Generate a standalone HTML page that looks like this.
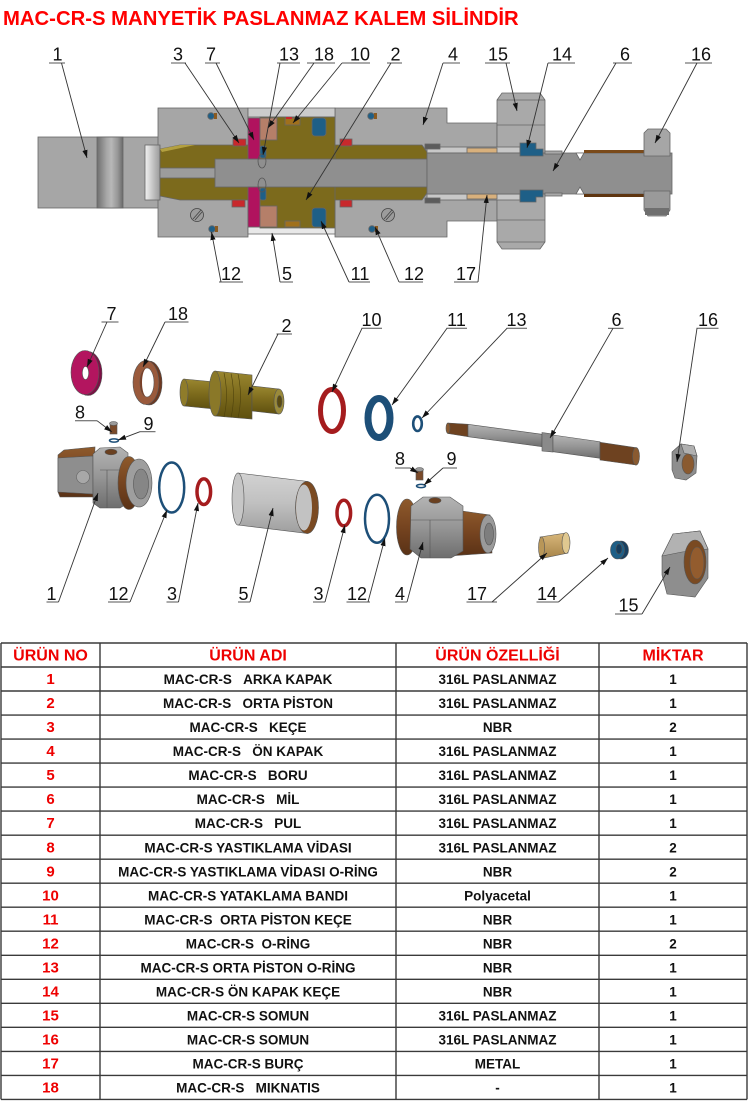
<!DOCTYPE html>
<html><head><meta charset="utf-8"><style>
html,body{margin:0;padding:0;background:#fff;}
svg{display:block;}
text{font-family:"Liberation Sans",Arial,sans-serif;}
</style></head><body>
<svg width="750" height="1107" viewBox="0 0 750 1107" xmlns="http://www.w3.org/2000/svg">
<defs>
<marker id="ah" markerWidth="8" markerHeight="6" refX="8" refY="3" orient="auto" markerUnits="userSpaceOnUse"><path d="M0,0.4 L8,3 L0,5.6 z" fill="#111"/></marker>
<linearGradient id="grip" x1="0" x2="1" y1="0" y2="0"><stop offset="0" stop-color="#6e6e6e"/><stop offset="0.35" stop-color="#a4a4a4"/><stop offset="0.55" stop-color="#b8b8b8"/><stop offset="0.8" stop-color="#969696"/><stop offset="1" stop-color="#6a6a6a"/></linearGradient>
<linearGradient id="bore" x1="0" x2="1" y1="0" y2="0"><stop offset="0" stop-color="#f2f2f2"/><stop offset="1" stop-color="#9a9a9a"/></linearGradient>
<linearGradient id="tubeg" x1="0" x2="0" y1="0" y2="1"><stop offset="0" stop-color="#d2d2d2"/><stop offset="0.5" stop-color="#c0c0c0"/><stop offset="1" stop-color="#9e9e9e"/></linearGradient>
<linearGradient id="brass" x1="0" x2="0" y1="0" y2="1"><stop offset="0" stop-color="#9a8730"/><stop offset="0.5" stop-color="#7c6a1c"/><stop offset="1" stop-color="#5e500f"/></linearGradient>
<linearGradient id="steel" x1="0" x2="0" y1="0" y2="1"><stop offset="0" stop-color="#b4b4b4"/><stop offset="0.5" stop-color="#959595"/><stop offset="1" stop-color="#6e6e6e"/></linearGradient>
<linearGradient id="brown" x1="0" x2="0" y1="0" y2="1"><stop offset="0" stop-color="#8e5a2c"/><stop offset="0.5" stop-color="#764420"/><stop offset="1" stop-color="#5a3216"/></linearGradient>
<linearGradient id="bush" x1="0" x2="0" y1="0" y2="1"><stop offset="0" stop-color="#d8b77a"/><stop offset="1" stop-color="#a8854a"/></linearGradient>
</defs>

<!-- TITLE -->
<text x="3" y="25" font-size="20.3" font-weight="bold" fill="#ff0000">MAC-CR-S MANYETİK PASLANMAZ KALEM SİLİNDİR</text>

<!-- ================= CROSS SECTION ================= -->
<g stroke="#666" stroke-width="0.8">
  <rect x="38" y="137" width="122" height="71" fill="#a6a6a6"/>
  <rect x="97" y="137" width="26" height="71" fill="url(#grip)"/>
  <rect x="158" y="108" width="90" height="129" fill="#a6a6a6"/>
  <polygon points="335,108 447,108 447,123 497,123 497,221 447,221 447,237 335,237" fill="#a6a6a6"/>
  <rect x="248" y="108" width="87" height="9" fill="#cbcbcb"/>
  <rect x="248" y="227" width="87" height="7" fill="#e8e8e8"/>
  <polygon points="497,100 502,93 540,93 545,100 545,242 540,249 502,249 497,242" fill="#a9a9a9"/>
  <line x1="497" y1="125" x2="545" y2="125"/>
  <line x1="497" y1="220" x2="545" y2="220"/>
  <line x1="497" y1="100" x2="545" y2="100"/>
  <line x1="497" y1="242" x2="545" y2="242"/>
  <rect x="145" y="145" width="15" height="55" fill="url(#bore)"/>
  <!-- brass rod -->
  <polygon points="160,149 180,145 422,145 427,152 427,193 422,200 180,200 160,196" fill="#7c6a1c"/>
  <polygon points="160,149 180,145 195,145 162,152" fill="#b3a040" stroke="none"/>
  <rect x="260" y="117" width="75" height="111" fill="#7c6a1c"/>
  <!-- shaft -->
  <rect x="160" y="168" width="55" height="10" fill="#9c9c9c"/>
  <rect x="215" y="159" width="212" height="28" fill="#8f8f8f"/>
  <rect x="427" y="147" width="93" height="6" fill="#c8c8c8"/>
  <rect x="427" y="194" width="93" height="6" fill="#c8c8c8"/>
  <rect x="425" y="144" width="15" height="5" fill="#5c5c5c"/>
  <rect x="425" y="198" width="15" height="5" fill="#5c5c5c"/>
  <rect x="467" y="148" width="30" height="5" fill="#d8b07c"/>
  <rect x="467" y="194" width="30" height="5" fill="#d8b07c"/>
  <rect x="427" y="153" width="245" height="41" fill="#8f8f8f"/>
  <rect x="545" y="151" width="17" height="3" fill="#a8a8a8"/>
  <rect x="545" y="193" width="17" height="3" fill="#a8a8a8"/>
  <polygon points="576,153 580,160 584,153" fill="#fff"/>
  <polygon points="576,194 580,187 584,194" fill="#fff"/>
  <rect x="584" y="150" width="60" height="3" fill="#7a4a1a" stroke="none"/>
  <rect x="584" y="194" width="60" height="3" fill="#5e3510" stroke="none"/>
  <!-- nut 16 -->
  <polygon points="644,133 648,129 666,129 670,133 670,156 644,156" fill="#a6a6a6"/>
  <polygon points="644,191 670,191 670,210 666,216 648,216 644,210" fill="#9a9a9a"/>
  <rect x="645" y="208" width="24" height="7" fill="#6f6f6f" stroke="none"/>
  <!-- seal 14 -->
  <polygon points="520,143 536,143 536,149 543,149 543,156 520,156" fill="#1e5f87"/>
  <polygon points="520,190 543,190 543,197 536,197 536,202 520,202" fill="#1e5f87"/>
  <!-- magenta 7 -->
  <rect x="248" y="118" width="12" height="41" fill="#b0135e"/>
  <rect x="248" y="187" width="12" height="40" fill="#b0135e"/>
  <!-- magnet 18 -->
  <rect x="260" y="118" width="17" height="22" fill="#b57f69"/>
  <rect x="260" y="206" width="17" height="21" fill="#b57f69"/>
  <!-- band 10 -->
  <rect x="285" y="118" width="15" height="7" fill="#a0701c"/>
  <rect x="285" y="221" width="15" height="6" fill="#a0701c"/>
  <rect x="286" y="117" width="6" height="2" fill="#c8282c" stroke="none"/>
  <!-- seal 11 -->
  <rect x="312" y="118" width="14" height="18" rx="3" fill="#1e5f87"/>
  <rect x="312" y="208" width="14" height="19" rx="3" fill="#1e5f87"/>
  <!-- o-ring 13 -->
  <rect x="260" y="146" width="6" height="12" rx="2" fill="#1e5f87"/>
  <rect x="260" y="188" width="6" height="12" rx="2" fill="#1e5f87"/>
  <ellipse cx="262" cy="161" rx="4" ry="7" fill="none" stroke="#555"/>
  <ellipse cx="262" cy="185" rx="4" ry="7" fill="none" stroke="#555"/>
  <!-- red seals 3 -->
  <rect x="233" y="139" width="13" height="7" fill="#c8282c"/>
  <rect x="232" y="200" width="13" height="7" fill="#c8282c"/>
  <rect x="340" y="139" width="12" height="7" fill="#c8282c"/>
  <rect x="340" y="200" width="12" height="7" fill="#c8282c"/>
  <!-- o-rings 12 -->
  <circle cx="211" cy="116" r="3.3" fill="#1e5f87"/>
  <circle cx="371" cy="116" r="3.3" fill="#1e5f87"/>
  <circle cx="212" cy="229" r="3.3" fill="#1e5f87"/>
  <circle cx="372" cy="229" r="3.3" fill="#1e5f87"/>
  <rect x="214" y="113" width="3" height="6" fill="#8a5a20" stroke="none"/>
  <rect x="374" y="113" width="3" height="6" fill="#8a5a20" stroke="none"/>
  <rect x="215" y="226" width="3" height="6" fill="#8a5a20" stroke="none"/>
  <rect x="375" y="226" width="3" height="6" fill="#8a5a20" stroke="none"/>
  <!-- screws -->
  <circle cx="197" cy="215" r="6.5" fill="#9c9c9c" stroke="#444"/>
  <line x1="193" y1="219" x2="201" y2="210" stroke="#444"/>
  <line x1="195" y1="220" x2="202" y2="212" stroke="#444"/>
  <circle cx="388" cy="215" r="6.5" fill="#9c9c9c" stroke="#444"/>
  <line x1="384" y1="219" x2="392" y2="210" stroke="#444"/>
  <line x1="386" y1="220" x2="393" y2="212" stroke="#444"/>
</g>

<!-- cross-section labels -->
<g font-size="18" fill="#111" text-anchor="middle">
  <text x="57.5" y="60.5">1</text>
  <text x="178" y="60.5">3</text>
  <text x="211" y="60.5">7</text>
  <text x="289" y="60.5">13</text>
  <text x="324" y="60.5">18</text>
  <text x="360" y="60.5">10</text>
  <text x="395.5" y="60.5">2</text>
  <text x="453" y="60.5">4</text>
  <text x="498" y="60.5">15</text>
  <text x="562" y="60.5">14</text>
  <text x="625" y="60.5">6</text>
  <text x="701" y="60.5">16</text>
  <text x="231" y="280">12</text>
  <text x="287" y="280">5</text>
  <text x="360" y="280">11</text>
  <text x="414" y="280">12</text>
  <text x="466" y="280">17</text>
</g>
<g stroke="#555" stroke-width="1">
  <line x1="49" y1="63" x2="65" y2="63"/>
  <line x1="171" y1="63" x2="186" y2="63"/>
  <line x1="205" y1="63" x2="220" y2="63"/>
  <line x1="277" y1="63" x2="300" y2="63"/>
  <line x1="307" y1="63" x2="335" y2="63"/>
  <line x1="342" y1="63" x2="370" y2="63"/>
  <line x1="387" y1="63" x2="402" y2="63"/>
  <line x1="443" y1="63" x2="460" y2="63"/>
  <line x1="485" y1="63" x2="510" y2="63"/>
  <line x1="548" y1="63" x2="575" y2="63"/>
  <line x1="613" y1="63" x2="632" y2="63"/>
  <line x1="685" y1="63" x2="712" y2="63"/>
  <line x1="219" y1="282" x2="243" y2="282"/>
  <line x1="280" y1="282" x2="293" y2="282"/>
  <line x1="349" y1="282" x2="370" y2="282"/>
  <line x1="399" y1="282" x2="423" y2="282"/>
  <line x1="454" y1="282" x2="478" y2="282"/>
</g>
<g stroke="#333" stroke-width="0.9" marker-end="url(#ah)">
  <line x1="61.5" y1="63" x2="87" y2="158"/>
  <line x1="185" y1="63" x2="239" y2="143"/>
  <line x1="216" y1="63" x2="254" y2="140"/>
  <line x1="280" y1="63" x2="263" y2="155"/>
  <line x1="314" y1="63" x2="268" y2="128"/>
  <line x1="342" y1="63" x2="293" y2="123"/>
  <line x1="391" y1="63" x2="306" y2="200"/>
  <line x1="443" y1="63" x2="423" y2="125"/>
  <line x1="506" y1="63" x2="517" y2="111"/>
  <line x1="548" y1="63" x2="527" y2="148"/>
  <line x1="616" y1="63" x2="553" y2="171"/>
  <line x1="697" y1="63" x2="655" y2="143"/>
  <line x1="221" y1="282" x2="211.5" y2="232"/>
  <line x1="280" y1="282" x2="272" y2="233"/>
  <line x1="349" y1="282" x2="321" y2="221"/>
  <line x1="399" y1="282" x2="375" y2="227"/>
  <line x1="478" y1="282" x2="487" y2="195"/>
</g>

<!-- ================= EXPLODED VIEW ================= -->
<g stroke="#555" stroke-width="0.6">
  <!-- 7 -->
  <ellipse cx="88" cy="373.5" rx="14" ry="22" fill="#7d0f45"/>
  <ellipse cx="85" cy="372.5" rx="14" ry="22" fill="#b3155f"/>
  <ellipse cx="85.5" cy="373" rx="3.2" ry="6.5" fill="#fff"/>
  <!-- 18 -->
  <ellipse cx="149" cy="383" rx="13" ry="22" fill="#6e3820"/>
  <ellipse cx="146" cy="382.5" rx="13" ry="22" fill="#9a5a3c"/>
  <ellipse cx="147" cy="382.5" rx="7" ry="14.5" fill="#fff"/>
  <path d="M147,368 A7,14.5 0 0 0 147,397 A5,14.5 0 0 1 147,368z" fill="#7a4028" stroke="none"/>
  <!-- 2 piston -->
  <polygon points="184,379 215,382 215,409 184,406" fill="url(#brass)"/>
  <ellipse cx="184" cy="392.5" rx="4" ry="13.5" fill="#8f7c2a"/>
  <polygon points="215,371 252,375 252,419 215,416" fill="url(#brass)"/>
  <ellipse cx="215" cy="393.5" rx="6" ry="22.5" fill="#8a7828"/>
  <path d="M224,373 q5,22 0,44 M231,373.5 q5,22 0,44 M238,374 q5,22 0,44" fill="none" stroke="#4e420c"/>
  <polygon points="252,386 279,389 279,414 252,411" fill="url(#brass)"/>
  <ellipse cx="279" cy="401.5" rx="5" ry="12.5" fill="#9a8a3a"/>
  <ellipse cx="279.5" cy="401.5" rx="2.5" ry="6" fill="#5a4a10"/>
  <!-- 10 -->
  <ellipse cx="332" cy="410.5" rx="11.5" ry="21" fill="none" stroke="#a51c1e" stroke-width="5"/>
  <!-- 11 -->
  <ellipse cx="379" cy="418" rx="11" ry="19.5" fill="none" stroke="#1d4f78" stroke-width="7"/>
  <!-- 13 -->
  <ellipse cx="417.5" cy="423.7" rx="4.3" ry="7.3" fill="none" stroke="#1d4f78" stroke-width="2.6"/>
  <!-- 6 shaft -->
  <polygon points="448,423 468,424.3 468,436.7 448,433.5" fill="#6e4220"/>
  <ellipse cx="448" cy="428.2" rx="2" ry="5.2" fill="#8a5a30"/>
  <polygon points="468,424.3 542,434.3 542,446.7 468,436.7" fill="url(#steel)"/>
  <polygon points="542,432.5 553,434 553,452 542,451" fill="#8a8a8a"/>
  <polygon points="553,435 600,441.7 600,458.3 553,451.7" fill="url(#steel)"/>
  <polygon points="600,442.3 636,447.7 636,465 600,460" fill="#6e4220"/>
  <ellipse cx="636" cy="456.3" rx="3.5" ry="8.7" fill="#8a5a30"/>
  <!-- 16 nut -->
  <polygon points="672,452 681,444 694,446 697,456 696,473 686,480 675,478 672,470" fill="#8e8e8e"/>
  <polygon points="681,444 694,446 697,456 684,453" fill="#b0b0b0"/>
  <ellipse cx="688" cy="464" rx="6" ry="10" fill="#8a5a30"/>
  <!-- 8/9 first -->
  <rect x="110" y="424" width="7" height="10" fill="#7a4a2a"/>
  <ellipse cx="113.5" cy="423.5" rx="4" ry="2" fill="#9a9a9a"/>
  <ellipse cx="114" cy="440.5" rx="4.5" ry="1.6" fill="none" stroke="#1d4f78" stroke-width="1.5"/>
  <!-- 8/9 second -->
  <rect x="416" y="470" width="7" height="10" fill="#7a4a2a"/>
  <ellipse cx="419.5" cy="469.5" rx="4" ry="2" fill="#9a9a9a"/>
  <ellipse cx="421" cy="486" rx="4.5" ry="1.6" fill="none" stroke="#1d4f78" stroke-width="1.5"/>
  <!-- 1 exploded -->
  <polygon points="58,455 64,450 95,447 93,497 60,497 58,492" fill="url(#brown)"/>
  <polygon points="58,458 93,456 93,494 58,492" fill="#8e8e8e"/>
  <circle cx="83" cy="477" r="6.5" fill="#a8a8a8" stroke="#666"/>
  <polygon points="93,454 100,448 120,447 128,453 128,503 120,508 100,508 93,503" fill="url(#steel)"/>
  <line x1="100" y1="470" x2="120" y2="470"/>
  <line x1="107" y1="470" x2="107" y2="508"/>
  <ellipse cx="111" cy="452" rx="6" ry="2.8" fill="#6a4020"/>
  <ellipse cx="129" cy="483" rx="11" ry="26.5" fill="url(#brown)"/>
  <ellipse cx="139" cy="483" rx="13" ry="24" fill="#9e9e9e"/>
  <ellipse cx="141" cy="484" rx="7.5" ry="15" fill="#868686"/>
  <!-- 12 first -->
  <ellipse cx="171.7" cy="487.5" rx="12.5" ry="25" fill="none" stroke="#1d4f78" stroke-width="2.5"/>
  <!-- 3 first -->
  <ellipse cx="203.8" cy="491.7" rx="6.8" ry="12.8" fill="none" stroke="#a51c1e" stroke-width="3.5"/>
  <!-- 5 tube -->
  <polygon points="238,473 308,481.5 308,533.5 238,525" fill="url(#tubeg)"/>
  <ellipse cx="238" cy="499" rx="6" ry="26" fill="#c6c6c6"/>
  <ellipse cx="307" cy="507.5" rx="11.5" ry="26" fill="#7a4a22"/>
  <ellipse cx="304" cy="507.5" rx="8" ry="23" fill="#c2c2c2" stroke="none"/>
  <!-- 3 second -->
  <ellipse cx="343.8" cy="513" rx="6.8" ry="12.8" fill="none" stroke="#a51c1e" stroke-width="3.5"/>
  <!-- 12 second -->
  <ellipse cx="377" cy="518.7" rx="12" ry="24" fill="none" stroke="#1d4f78" stroke-width="2.5"/>
  <!-- 4 exploded -->
  <ellipse cx="407" cy="527" rx="10.5" ry="28" fill="url(#brown)"/>
  <polygon points="448,509 490,515 492,553 448,556" fill="url(#brown)"/>
  <polygon points="411,506 423,497 450,497 463,506 463,551 451,558 421,558 410,549" fill="url(#steel)"/>
  <line x1="411" y1="520" x2="463" y2="520"/>
  <line x1="430" y1="520" x2="430" y2="558"/>
  <ellipse cx="435" cy="500.5" rx="6" ry="2.8" fill="#6a4020"/>
  <ellipse cx="488" cy="534" rx="8" ry="19" fill="#9a9a9a"/>
  <ellipse cx="489" cy="534" rx="4.5" ry="11" fill="#7e7e7e"/>
  <!-- 17 -->
  <polygon points="540,537 566,533 568,553 544,558" fill="url(#bush)"/>
  <ellipse cx="541.5" cy="547.5" rx="3" ry="10.5" fill="#b89658"/>
  <ellipse cx="566" cy="543" rx="4" ry="10.5" fill="#e0c890"/>
  <!-- 14 -->
  <ellipse cx="621" cy="550" rx="7.5" ry="9" fill="#173f60"/>
  <ellipse cx="617.5" cy="550" rx="7" ry="9" fill="#1e5f87"/>
  <ellipse cx="619" cy="549" rx="3" ry="5" fill="#163c5c"/>
  <!-- 15 nut -->
  <polygon points="662,556 673,534 700,531 708,549 708,578 695,597 667,594 662,575" fill="#8e8e8e"/>
  <polygon points="673,534 700,531 708,549 682,552 662,556" fill="#b2b2b2"/>
  <ellipse cx="695" cy="562" rx="11" ry="22" fill="#7a4a22"/>
  <ellipse cx="697" cy="563" rx="7" ry="16" fill="#935c2e"/>
</g>

<!-- exploded labels -->
<g font-size="18" fill="#111" text-anchor="middle">
  <text x="111.5" y="320">7</text>
  <text x="178" y="320">18</text>
  <text x="286.5" y="332">2</text>
  <text x="371.5" y="326">10</text>
  <text x="456.5" y="326">11</text>
  <text x="516.5" y="326">13</text>
  <text x="616.5" y="326">6</text>
  <text x="708" y="326">16</text>
  <text x="80" y="418.5">8</text>
  <text x="148.5" y="430">9</text>
  <text x="400" y="465">8</text>
  <text x="451.5" y="465">9</text>
  <text x="51.5" y="600">1</text>
  <text x="118.5" y="600">12</text>
  <text x="172" y="600">3</text>
  <text x="243.5" y="600">5</text>
  <text x="318.5" y="600">3</text>
  <text x="357" y="600">12</text>
  <text x="400" y="600">4</text>
  <text x="477" y="600">17</text>
  <text x="547" y="600">14</text>
  <text x="628.5" y="611.5">15</text>
</g>
<g stroke="#555" stroke-width="1">
  <line x1="101.5" y1="322" x2="118.5" y2="322"/>
  <line x1="165" y1="322" x2="188.5" y2="322"/>
  <line x1="276.5" y1="334" x2="292" y2="334"/>
  <line x1="361.5" y1="328.3" x2="382" y2="328.3"/>
  <line x1="446.5" y1="328.3" x2="467" y2="328.3"/>
  <line x1="506.5" y1="328.3" x2="527" y2="328.3"/>
  <line x1="608" y1="328.3" x2="623.5" y2="328.3"/>
  <line x1="696.5" y1="328.3" x2="718.5" y2="328.3"/>
  <line x1="75" y1="420.7" x2="97" y2="420.7"/>
  <line x1="140" y1="431.7" x2="155.5" y2="431.7"/>
  <line x1="395" y1="468" x2="410.5" y2="468"/>
  <line x1="443" y1="468" x2="457" y2="468"/>
  <line x1="46.5" y1="602" x2="58.5" y2="602"/>
  <line x1="108" y1="602" x2="130" y2="602"/>
  <line x1="166.5" y1="602" x2="178.5" y2="602"/>
  <line x1="238" y1="602" x2="250" y2="602"/>
  <line x1="313" y1="602" x2="325" y2="602"/>
  <line x1="346.5" y1="602" x2="370" y2="602"/>
  <line x1="395" y1="602" x2="407" y2="602"/>
  <line x1="466.5" y1="602" x2="497" y2="602"/>
  <line x1="536.5" y1="602" x2="558.5" y2="602"/>
  <line x1="615" y1="614" x2="642" y2="614"/>
</g>
<g stroke="#333" stroke-width="0.9" marker-end="url(#ah)">
  <line x1="107" y1="322" x2="87" y2="367"/>
  <line x1="165" y1="322" x2="143" y2="367"/>
  <line x1="278" y1="334" x2="248" y2="395"/>
  <line x1="362" y1="328.3" x2="332" y2="392"/>
  <line x1="447" y1="328.3" x2="392" y2="405"/>
  <line x1="507" y1="328.3" x2="422" y2="418"/>
  <line x1="613" y1="328.3" x2="550" y2="438"/>
  <line x1="697" y1="328.3" x2="677" y2="462"/>
  <line x1="97" y1="420.7" x2="112" y2="432"/>
  <line x1="140" y1="431.7" x2="118" y2="440"/>
  <line x1="410" y1="468" x2="418" y2="473"/>
  <line x1="443" y1="468" x2="424" y2="485"/>
  <line x1="58.5" y1="602" x2="98" y2="493"/>
  <line x1="130" y1="602" x2="167" y2="510"/>
  <line x1="178.5" y1="602" x2="198" y2="503"/>
  <line x1="250" y1="602" x2="273" y2="508"/>
  <line x1="325" y1="602" x2="345" y2="525"/>
  <line x1="368" y1="602" x2="385" y2="538"/>
  <line x1="407" y1="602" x2="423" y2="542"/>
  <line x1="492" y1="602" x2="547" y2="553"/>
  <line x1="558.5" y1="602" x2="608" y2="558"/>
  <line x1="642" y1="614" x2="670" y2="567"/>
</g>

<!-- ================= TABLE ================= -->
<g stroke="#3a3a3a" stroke-width="1.4">
  <line x1="1" y1="643" x2="747" y2="643"/>
  <line x1="1" y1="667" x2="747" y2="667"/>
  <line x1="1" y1="691" x2="747" y2="691"/>
  <line x1="1" y1="715.1" x2="747" y2="715.1"/>
  <line x1="1" y1="739.1" x2="747" y2="739.1"/>
  <line x1="1" y1="763.1" x2="747" y2="763.1"/>
  <line x1="1" y1="787.1" x2="747" y2="787.1"/>
  <line x1="1" y1="811.1" x2="747" y2="811.1"/>
  <line x1="1" y1="835.2" x2="747" y2="835.2"/>
  <line x1="1" y1="859.2" x2="747" y2="859.2"/>
  <line x1="1" y1="883.2" x2="747" y2="883.2"/>
  <line x1="1" y1="907.2" x2="747" y2="907.2"/>
  <line x1="1" y1="931.2" x2="747" y2="931.2"/>
  <line x1="1" y1="955.3" x2="747" y2="955.3"/>
  <line x1="1" y1="979.3" x2="747" y2="979.3"/>
  <line x1="1" y1="1003.3" x2="747" y2="1003.3"/>
  <line x1="1" y1="1027.3" x2="747" y2="1027.3"/>
  <line x1="1" y1="1051.4" x2="747" y2="1051.4"/>
  <line x1="1" y1="1075.4" x2="747" y2="1075.4"/>
  <line x1="1" y1="1099.4" x2="747" y2="1099.4"/>
  <line x1="1" y1="643" x2="1" y2="1099.4"/>
  <line x1="100" y1="643" x2="100" y2="1099.4"/>
  <line x1="396" y1="643" x2="396" y2="1099.4"/>
  <line x1="599" y1="643" x2="599" y2="1099.4"/>
  <line x1="747" y1="643" x2="747" y2="1099.4"/>
</g>
<g font-weight="bold" text-anchor="middle">
  <g font-size="16" fill="#ee0000">
    <text x="50.5" y="660.5">ÜRÜN NO</text>
    <text x="248" y="660.5">ÜRÜN ADI</text>
    <text x="497.5" y="660.5">ÜRÜN ÖZELLİĞİ</text>
    <text x="673" y="660.5">MİKTAR</text>
  </g>
  <g font-size="15" fill="#ee0000">
    <text x="50.5" y="684.1">1</text>
    <text x="50.5" y="708.1">2</text>
    <text x="50.5" y="732.2">3</text>
    <text x="50.5" y="756.2">4</text>
    <text x="50.5" y="780.2">5</text>
    <text x="50.5" y="804.2">6</text>
    <text x="50.5" y="828.2">7</text>
    <text x="50.5" y="852.3">8</text>
    <text x="50.5" y="876.3">9</text>
    <text x="50.5" y="900.3">10</text>
    <text x="50.5" y="924.3">11</text>
    <text x="50.5" y="948.3">12</text>
    <text x="50.5" y="972.4">13</text>
    <text x="50.5" y="996.4">14</text>
    <text x="50.5" y="1020.4">15</text>
    <text x="50.5" y="1044.4">16</text>
    <text x="50.5" y="1068.5">17</text>
    <text x="50.5" y="1092.5">18</text>
  </g>
  <g font-size="13.5" fill="#111">
    <text x="248" y="684.1">MAC-CR-S&#160;&#160;&#160;ARKA KAPAK</text>
    <text x="248" y="708.1">MAC-CR-S&#160;&#160;&#160;ORTA PİSTON</text>
    <text x="248" y="732.2">MAC-CR-S&#160;&#160;&#160;KEÇE</text>
    <text x="248" y="756.2">MAC-CR-S&#160;&#160;&#160;ÖN KAPAK</text>
    <text x="248" y="780.2">MAC-CR-S&#160;&#160;&#160;BORU</text>
    <text x="248" y="804.2">MAC-CR-S&#160;&#160;&#160;MİL</text>
    <text x="248" y="828.2">MAC-CR-S&#160;&#160;&#160;PUL</text>
    <text x="248" y="852.3">MAC-CR-S YASTIKLAMA VİDASI</text>
    <text x="248" y="876.3">MAC-CR-S YASTIKLAMA VİDASI O-RİNG</text>
    <text x="248" y="900.3">MAC-CR-S YATAKLAMA BANDI</text>
    <text x="248" y="924.3">MAC-CR-S&#160;&#160;ORTA PİSTON KEÇE</text>
    <text x="248" y="948.3">MAC-CR-S&#160;&#160;O-RİNG</text>
    <text x="248" y="972.4">MAC-CR-S ORTA PİSTON O-RİNG</text>
    <text x="248" y="996.4">MAC-CR-S ÖN KAPAK KEÇE</text>
    <text x="248" y="1020.4">MAC-CR-S SOMUN</text>
    <text x="248" y="1044.4">MAC-CR-S SOMUN</text>
    <text x="248" y="1068.5">MAC-CR-S BURÇ</text>
    <text x="248" y="1092.5">MAC-CR-S&#160;&#160;&#160;MIKNATIS</text>

    <text x="497.5" y="684.1">316L PASLANMAZ</text>
    <text x="497.5" y="708.1">316L PASLANMAZ</text>
    <text x="497.5" y="732.2">NBR</text>
    <text x="497.5" y="756.2">316L PASLANMAZ</text>
    <text x="497.5" y="780.2">316L PASLANMAZ</text>
    <text x="497.5" y="804.2">316L PASLANMAZ</text>
    <text x="497.5" y="828.2">316L PASLANMAZ</text>
    <text x="497.5" y="852.3">316L PASLANMAZ</text>
    <text x="497.5" y="876.3">NBR</text>
    <text x="497.5" y="900.3">Polyacetal</text>
    <text x="497.5" y="924.3">NBR</text>
    <text x="497.5" y="948.3">NBR</text>
    <text x="497.5" y="972.4">NBR</text>
    <text x="497.5" y="996.4">NBR</text>
    <text x="497.5" y="1020.4">316L PASLANMAZ</text>
    <text x="497.5" y="1044.4">316L PASLANMAZ</text>
    <text x="497.5" y="1068.5">METAL</text>
    <text x="497.5" y="1092.5">-</text>

    <text x="673" y="684.1">1</text>
    <text x="673" y="708.1">1</text>
    <text x="673" y="732.2">2</text>
    <text x="673" y="756.2">1</text>
    <text x="673" y="780.2">1</text>
    <text x="673" y="804.2">1</text>
    <text x="673" y="828.2">1</text>
    <text x="673" y="852.3">2</text>
    <text x="673" y="876.3">2</text>
    <text x="673" y="900.3">1</text>
    <text x="673" y="924.3">1</text>
    <text x="673" y="948.3">2</text>
    <text x="673" y="972.4">1</text>
    <text x="673" y="996.4">1</text>
    <text x="673" y="1020.4">1</text>
    <text x="673" y="1044.4">1</text>
    <text x="673" y="1068.5">1</text>
    <text x="673" y="1092.5">1</text>
  </g>
</g>
</svg>
</body></html>
